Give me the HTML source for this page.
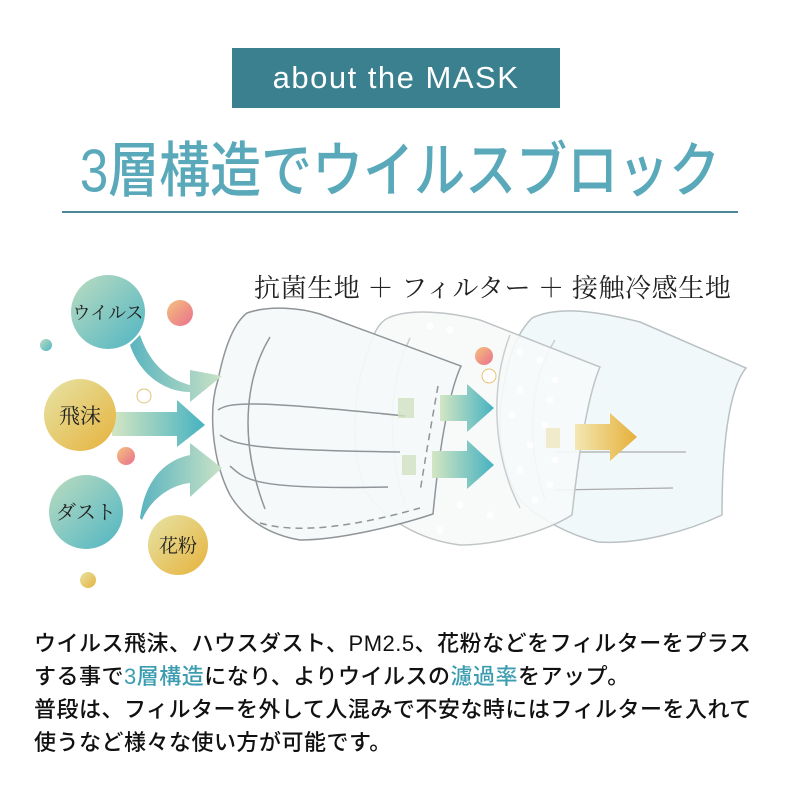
<!DOCTYPE html>
<html><head><meta charset="utf-8"><style>
html,body{margin:0;padding:0;background:#fff;}
body{width:800px;height:800px;position:relative;overflow:hidden;font-family:"Liberation Sans","Noto Sans CJK JP",sans-serif;}
.box{position:absolute;left:232px;top:48px;width:328px;height:60px;background:#3b808f;color:#fff;font-size:31px;text-align:center;line-height:60px;letter-spacing:1.5px;}
.title{position:absolute;left:0;width:800px;top:122px;text-align:center;font-size:51px;color:#5aa9ba;white-space:nowrap;font-weight:500;transform:scaleY(1.18);transform-origin:50% 0;}
.rule{position:absolute;left:62px;width:676px;top:211px;height:2px;background:#4c8596;}
.body{position:absolute;left:34px;top:627px;font-size:22px;line-height:33px;color:#111;white-space:nowrap;font-weight:500;letter-spacing:0.5px;}
.hl{color:#3c9db1;}
</style></head><body>
<div class="box">about the MASK</div>
<div class="title">3層構造でウイルスブロック</div>
<div class="rule"></div>
<svg width="800" height="620" style="position:absolute;left:0;top:0" viewBox="0 0 800 620">
<defs>
<linearGradient id="gt" x1="0" y1="0" x2="1" y2="1"><stop offset="0" stop-color="#bcdcc0"/><stop offset="1" stop-color="#4fb5c3"/></linearGradient>
<linearGradient id="gy" x1="0" y1="0" x2="1" y2="1"><stop offset="0" stop-color="#e6e4a6"/><stop offset="1" stop-color="#e6b23c"/></linearGradient>
<linearGradient id="gp" x1="0" y1="0" x2="1" y2="1"><stop offset="0" stop-color="#f4c27c"/><stop offset="1" stop-color="#ea6f8e"/></linearGradient>
<linearGradient id="ga" x1="0" y1="0" x2="1" y2="0"><stop offset="0" stop-color="#d3e6c3"/><stop offset="1" stop-color="#46b2c1"/></linearGradient>
<linearGradient id="ga2" x1="0" y1="0" x2="1" y2="0"><stop offset="0" stop-color="#5ab4bf"/><stop offset="1" stop-color="#c9e2c6"/></linearGradient>
<linearGradient id="gya" x1="0" y1="0" x2="1" y2="0"><stop offset="0" stop-color="#f3e7b2"/><stop offset="1" stop-color="#e6b03a"/></linearGradient>
</defs>
<path d="M532,318 C560,305 600,312 640,322 L746,368 C732,385 722,430 722,515 C690,530 640,545 598,542 C570,535 540,520 520,500 C500,470 495,420 505,380 C510,350 520,330 532,318Z" fill="#f1f8f9" stroke="#b9c1c4" stroke-width="1.5"/>
<path d="M555,340 C530,380 525,440 545,500" fill="none" stroke="#c8cfd1" stroke-width="1.5"/>
<line x1="555" y1="452" x2="686" y2="452" stroke="#aaa" stroke-width="1.2"/>
<line x1="555" y1="490" x2="673" y2="488" stroke="#aaa" stroke-width="1.2"/>
<path d="M388,318 C410,308 450,312 480,320 L600,367 C590,390 580,440 572,515 C540,535 490,545 460,545 C420,540 385,520 365,490 C350,450 352,390 370,345 C375,330 380,322 388,318Z" fill="#f7fafa" fill-opacity="0.9" stroke="#bfc4c6" stroke-width="1.5"/>
<path d="M410,338 C390,380 385,440 405,505" fill="none" stroke="#c8cdcf" stroke-width="1.5"/>
<path d="M510,335 C492,380 490,450 520,508" fill="none" stroke="#c8cdcf" stroke-width="1.5"/>
<g fill="#fff" opacity="0.95">
<circle cx="430" cy="326" r="3.5"/><circle cx="450" cy="330" r="3.5"/><circle cx="520" cy="352" r="3.5"/><circle cx="540" cy="360" r="3.5"/><circle cx="555" cy="380" r="3.5"/><circle cx="520" cy="390" r="3.5"/><circle cx="550" cy="400" r="3.5"/><circle cx="512" cy="415" r="3.5"/><circle cx="545" cy="425" r="3.5"/><circle cx="530" cy="445" r="3.5"/><circle cx="555" cy="460" r="3.5"/><circle cx="520" cy="470" r="3.5"/><circle cx="550" cy="485" r="3.5"/><circle cx="535" cy="500" r="3.5"/><circle cx="430" cy="490" r="3.5"/><circle cx="460" cy="505" r="3.5"/><circle cx="490" cy="515" r="3.5"/><circle cx="440" cy="530" r="3.5"/>
</g>
<path d="M247,313 C270,305 300,308 320,314 L461,366 C450,390 440,440 433,514 C400,525 340,540 300,540 C270,535 245,520 230,495 C212,460 208,410 218,380 C225,345 235,322 247,313Z" fill="#f4f8fa" fill-opacity="0.92" stroke="#8f9598" stroke-width="1.5"/>
<path d="M270,337 C250,370 235,430 265,509" fill="none" stroke="#8f9598" stroke-width="1.5"/>
<path d="M218,410 C230,402 250,400 405,416" fill="none" stroke="#8f9598" stroke-width="1.5"/>
<path d="M220,435 C235,445 250,450 400,452" fill="none" stroke="#8f9598" stroke-width="1.5"/>
<path d="M230,466 C245,480 255,490 388,487" fill="none" stroke="#8f9598" stroke-width="1.5"/>
<path d="M260,523 C300,535 360,525 420,508" fill="none" stroke="#8f9598" stroke-width="1.5" stroke-dasharray="7,5"/>
<path d="M438,386 C432,420 425,460 420,492" fill="none" stroke="#8f9598" stroke-width="1.5" stroke-dasharray="7,5"/>
<rect x="398" y="398" width="16" height="20" fill="#cfe1c0" opacity="0.8"/>
<rect x="402" y="455" width="14" height="20" fill="#cfe1c0" opacity="0.8"/>
<rect x="546" y="428" width="14" height="20" fill="#ece7bf" opacity="0.8"/>
<path d="M440,395 L467,395 L467,384 L494,408 L467,432 L467,421 L440,421Z" fill="url(#ga)"/>
<path d="M432,451 L467,451 L467,440 L494,465 L467,489 L467,478 L432,478Z" fill="url(#ga)"/>
<path d="M575,424 L610,424 L610,413 L637,437 L610,461 L610,450 L575,450Z" fill="url(#gya)"/>
<circle cx="484" cy="356" r="9" fill="url(#gp)"/>
<circle cx="489" cy="376" r="7" fill="#fff" stroke="#e8c070" stroke-width="1"/>
<path d="M140,335 C150,365 170,380 190,385 L190,370 L222,376 L190,402 L190,392 C165,392 140,375 130,345Z" fill="url(#ga2)"/>
<path d="M112,412 L177,412 L177,400 L205,425 L177,447 L177,436 L112,436Z" fill="url(#ga)"/>
<path d="M140,518 C145,480 165,460 190,455 L190,443 L222,468 L190,497 L190,483 C170,485 150,500 142,520Z" fill="url(#ga2)"/>
<circle cx="108" cy="312" r="37" fill="url(#gt)"/>
<circle cx="80" cy="415" r="36" fill="url(#gy)"/>
<circle cx="86" cy="512" r="37" fill="url(#gt)"/>
<circle cx="178" cy="545" r="30" fill="url(#gy)"/>
<circle cx="180" cy="313" r="13" fill="url(#gp)"/>
<circle cx="46" cy="345" r="6" fill="url(#gt)"/>
<circle cx="144" cy="396" r="7" fill="#fff" stroke="#e3c27a" stroke-width="1"/>
<circle cx="126" cy="456" r="9" fill="url(#gp)"/>
<circle cx="88" cy="580" r="8" fill="url(#gy)"/>
<g font-family="'Liberation Serif','Noto Serif CJK SC',serif" fill="#222">
<text x="108" y="319" font-size="18" text-anchor="middle">ウイルス</text>
<text x="80" y="423" font-size="21" text-anchor="middle">飛沫</text>
<text x="86" y="519" font-size="20" text-anchor="middle">ダスト</text>
<text x="178" y="552" font-size="19" text-anchor="middle">花粉</text>
<text x="254" y="297" font-size="26" letter-spacing="0.6">抗菌生地 ＋ フィルター ＋ 接触冷感生地</text>
</g>
</svg>
<div class="body">ウイルス飛沫、ハウスダスト、PM2.5、花粉などをフィルターをプラス<br>する事で<span class="hl">3層構造</span>になり、よりウイルスの<span class="hl">濾過率</span>をアップ。<br>普段は、フィルターを外して人混みで不安な時にはフィルターを入れて<br>使うなど様々な使い方が可能です。</div>
</body></html>
